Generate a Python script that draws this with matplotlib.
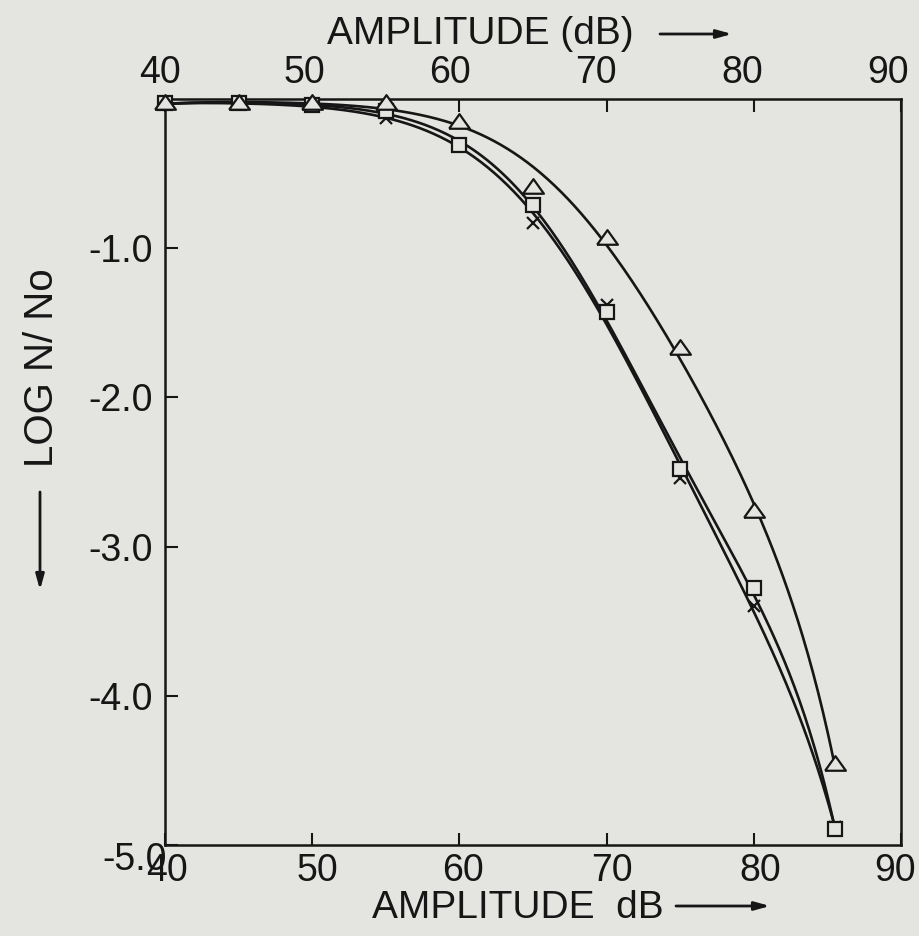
import numpy as np
import matplotlib
matplotlib.use("Agg")
import matplotlib.pyplot as plt
from matplotlib.transforms import ScaledTranslation

# ---- data ----
amplitude = [40, 45, 50, 55, 60, 65, 70, 75, 80, 85.5]
log_square = [-0.03, -0.03, -0.04, -0.08, -0.31, -0.71, -1.43, -2.48, -3.28, -4.89]
log_cross = [-0.03, -0.03, -0.05, -0.13, -0.31, -0.83, -1.38, -2.54, -3.40, -4.88]
log_triangle = [-0.03, -0.03, -0.03, -0.03, -0.155, -0.59, -0.93, -1.67, -2.76, -4.46]

xticks = [40, 50, 60, 70, 80, 90]
xticklabels = ["40", "50", "60", "70", "80", "90"]
yticks = [-1, -2, -3, -4, -5]
yticklabels = ["-1.0", "-2.0", "-3.0", "-4.0", "-5.0"]

BG = "#e4e4e1"
INK = "#161616"

plt.rcParams["font.family"] = ["Liberation Sans", "DejaVu Sans"]


def fitted_curve(x, y, deg=4, n=400):
    """Smooth least-squares curve through the points (fit of log(-y), like a French curve)."""
    x = np.asarray(x, float)
    y = np.asarray(y, float)
    xm, xsd = x.mean(), x.std()
    w = np.abs(y) + 0.25
    c = np.polyfit((x - xm) / xsd, np.log(-y), deg, w=w)
    xx = np.linspace(x[0], x[-1], n)
    return xx, -np.exp(np.polyval(c, (xx - xm) / xsd))


W, H = 919, 936
fig = plt.figure(figsize=(W / 100, H / 100), dpi=100, facecolor=BG)
L, R, T, B = 165, 901, 99, 845
ax = fig.add_axes([L / W, 1 - B / H, (R - L) / W, (B - T) / H])
ax.set_facecolor(BG)

tri_marker = [(-1, -0.6), (1, -0.6), (0, 0.8), (-1, -0.6)]

for ys in (log_triangle, log_square, log_cross):
    sx, sy = fitted_curve(amplitude, ys)
    ax.plot(sx, sy, color=INK, lw=1.9, zorder=2, solid_capstyle="round")

ax.plot(amplitude, log_cross, linestyle="none", marker="x", ms=8, mec=INK, mew=1.6,
        zorder=3, clip_on=False)
ax.plot(amplitude, log_square, linestyle="none", marker="s", ms=10, mfc=BG, mec=INK,
        mew=1.6, zorder=4, clip_on=False)
ax.plot(amplitude, log_triangle, linestyle="none", marker=tri_marker, ms=15, mfc=BG,
        mec=INK, mew=1.6, zorder=5, clip_on=False)

ax.set_xlim(40, 90)
ax.set_ylim(-5.0, 0)

ax.set_xticks(xticks)
ax.set_xticklabels(xticklabels)
ax.set_yticks(yticks)
ax.set_yticklabels(yticklabels)

ax.tick_params(axis="x", which="both", direction="in", length=9, width=1.5,
               top=True, bottom=True, labeltop=True, labelbottom=True,
               labelsize=27, pad=6, colors=INK)
ax.tick_params(axis="y", which="both", direction="in", length=9, width=1.5,
               left=True, right=False, labelsize=27, pad=9, colors=INK)

for sp in ax.spines.values():
    sp.set_linewidth(1.8)
    sp.set_color(INK)

# small horizontal shifts of the tick labels (the scanned original is slightly skewed)
top_dx = [-5, -8, -9, -11, -12, -13]
bot_dx = [2, 5, 4, 5, 6, -6]
xt = ax.get_xaxis().get_major_ticks()
for tk, dt, db in zip(xt, top_dx, bot_dx):
    tk.label2.set_transform(tk.label2.get_transform() + ScaledTranslation(dt / 100, 0, fig.dpi_scale_trans))
    tk.label1.set_transform(tk.label1.get_transform() + ScaledTranslation(db / 100, 0, fig.dpi_scale_trans))

# move the "-5.0" label to its place at the corner
for lbl in ax.get_yticklabels():
    if lbl.get_text() == "-5.0":
        lbl.set_transform(lbl.get_transform() + ScaledTranslation(0.14, -0.11, fig.dpi_scale_trans))


def fx(px):
    return px / W


def fy(py):
    return 1 - py / H


# axis titles
fig.text(fx(480), fy(34), "AMPLITUDE (dB)", fontsize=28, color=INK, ha="center", va="center")
fig.text(fx(518), fy(908), "AMPLITUDE  dB", fontsize=28, color=INK, ha="center", va="center")
fig.text(fx(42), fy(368), "LOG N/ No", fontsize=29, color=INK, ha="center", va="center", rotation=90)

arrow_kw = dict(arrowstyle="-|>,head_length=0.9,head_width=0.25", color=INK, lw=2.0,
                shrinkA=0, shrinkB=0)
ax.annotate("", xy=(fx(732), fy(34)), xytext=(fx(660), fy(34)),
            xycoords="figure fraction", textcoords="figure fraction", arrowprops=arrow_kw,
            annotation_clip=False)
ax.annotate("", xy=(fx(770), fy(906)), xytext=(fx(676), fy(906)),
            xycoords="figure fraction", textcoords="figure fraction", arrowprops=arrow_kw,
            annotation_clip=False)
ax.annotate("", xy=(fx(40), fy(590)), xytext=(fx(40), fy(492)),
            xycoords="figure fraction", textcoords="figure fraction", arrowprops=arrow_kw,
            annotation_clip=False)

fig.savefig("out.png", dpi=100, facecolor=BG)
